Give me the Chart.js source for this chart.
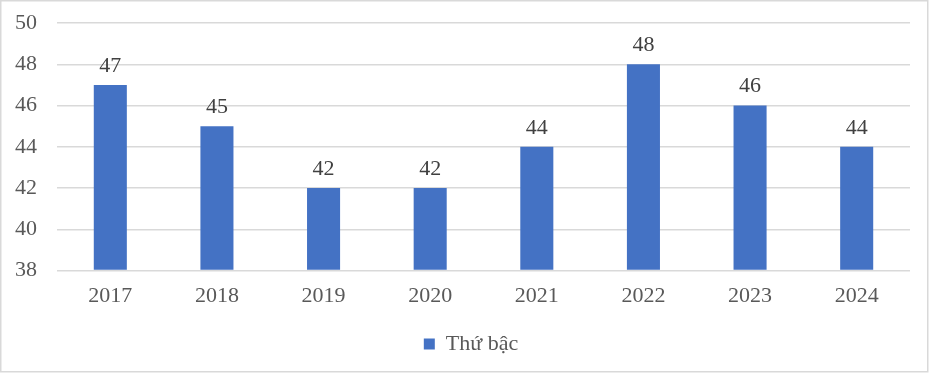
<!DOCTYPE html>
<html><head><meta charset="utf-8">
<script src="https://cdn.jsdelivr.net/npm/chart.js@4"></script>
<style>html,body{margin:0;padding:0;background:#fff}#wrap{width:934px;height:374px;position:relative}</style>
</head><body><div id="wrap"><canvas id="c" width="934" height="374"></canvas></div>
<script>
const categories = ['2017','2018','2019','2020','2021','2022','2023','2024'];
const rankValues = [47,45,42,42,44,48,46,44];
const seriesName = 'Thứ bậc';
const yMin = 38, yMax = 50, yStep = 2;

const FONT = "'Liberation Serif','Times New Roman',serif";

const borderPlugin = {
  id: 'frame',
  afterLayout(chart) {
    if (chart.legend) { chart.legend.left += 16; chart.legend.right += 16; }
  },
  afterDraw(chart) {
    const ctx = chart.ctx;
    ctx.save();
    ctx.strokeStyle = '#d9d9d9';
    ctx.lineWidth = 1.5;
    ctx.strokeRect(0.75, 0.75, 927, 371);
    ctx.restore();
  }
};
const labelPlugin = {
  id: 'vals',
  afterDatasetsDraw(chart) {
    const ctx = chart.ctx;
    const meta = chart.getDatasetMeta(0);
    ctx.save();
    ctx.font = '22px ' + FONT;
    ctx.fillStyle = '#404040';
    ctx.textAlign = 'center';
    ctx.textBaseline = 'bottom';
    meta.data.forEach((bar, i) => {
      ctx.fillText(String(chart.data.datasets[0].data[i]), bar.x, bar.y - 8);
    });
    ctx.restore();
  }
};

new Chart(document.getElementById('c'), {
  type: 'bar',
  data: {
    labels: categories,
    datasets: [{
      label: seriesName,
      data: rankValues,
      backgroundColor: '#4472C4',
      categoryPercentage: 1,
      barPercentage: 0.31,
      base: yMin
    }]
  },
  options: {
    responsive: false,
    animation: false,
    devicePixelRatio: 1,
    layout: { padding: { top: 23, right: 24, left: 0, bottom: 9 } },
    plugins: {
      legend: {
        position: 'bottom',
        labels: {
          font: { family: FONT, size: 22 },
          color: '#595959',
          boxWidth: 11, boxHeight: 11,
          padding: 12
        }
      },
      tooltip: { enabled: false }
    },
    scales: {
      x: {
        grid: { display: false, drawTicks: false },
        border: { display: false },
        ticks: { font: { family: FONT, size: 22 }, color: '#595959', padding: 12 }
      },
      y: {
        min: yMin, max: yMax,
        afterFit(scale) { scale.width = 57; scale.paddingTop = 0; scale.paddingBottom = 0; },
        grid: { color: '#d9d9d9', lineWidth: 1.5, drawTicks: false },
        border: { display: false },
        ticks: { stepSize: yStep, font: { family: FONT, size: 22 }, color: '#595959', padding: 20 }
      }
    }
  },
  plugins: [borderPlugin, labelPlugin]
});
</script></body></html>
